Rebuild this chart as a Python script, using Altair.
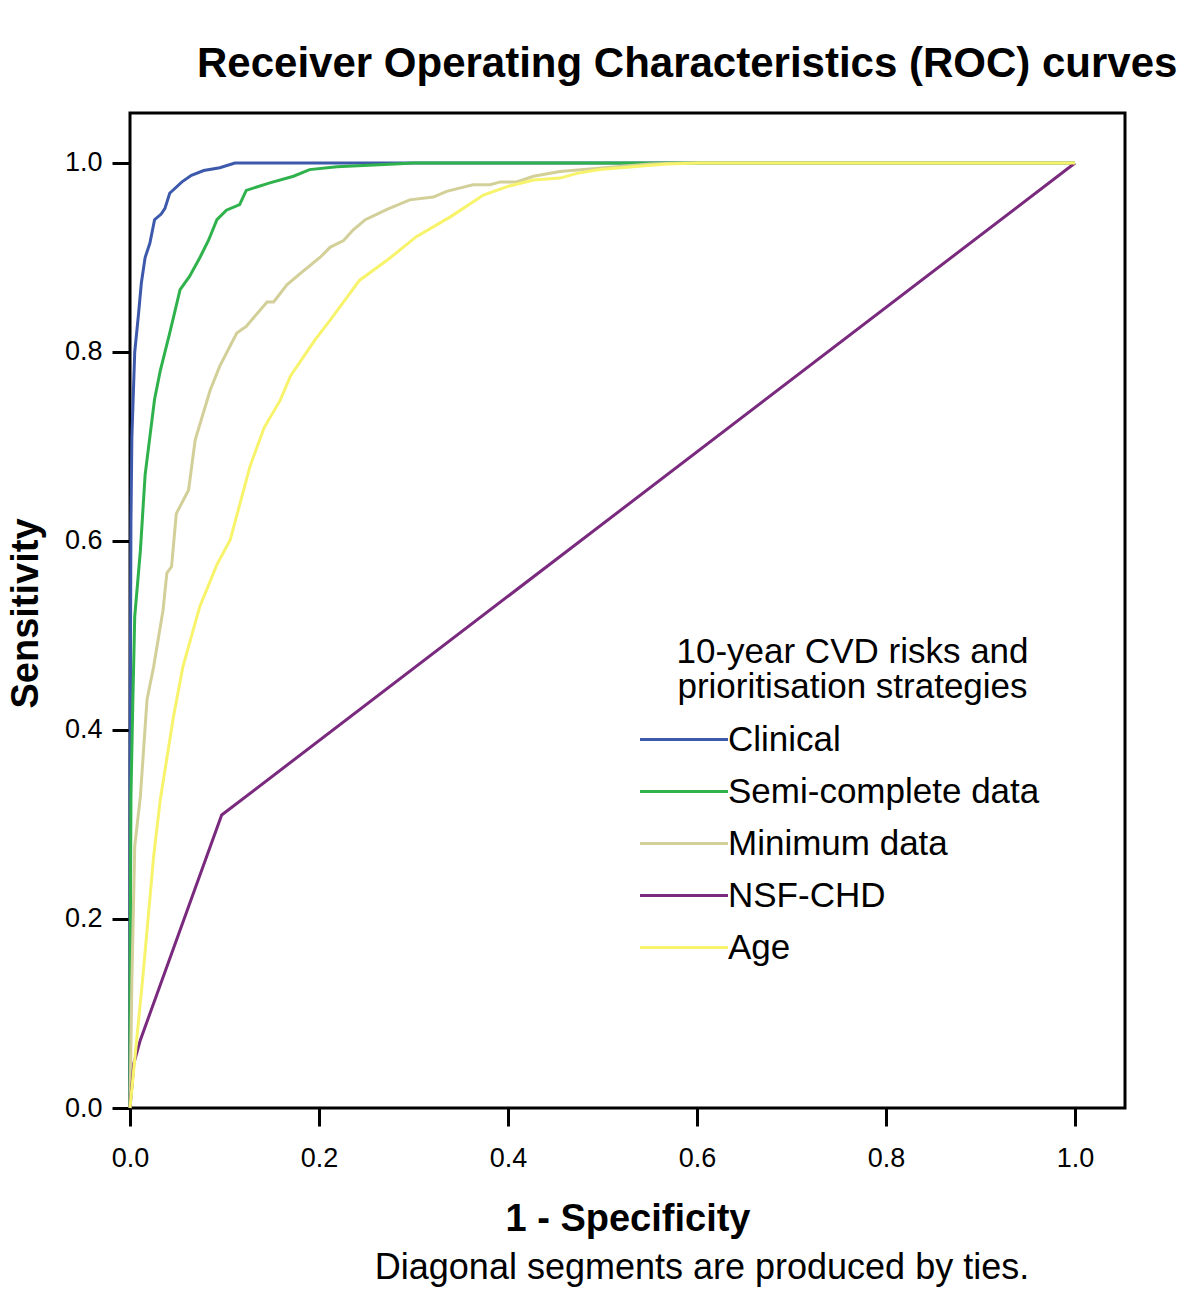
import altair as alt
import pandas as pd

# ---- data ----
series_names = ["Clinical", "Semi-complete data", "Minimum data", "NSF-CHD", "Age"]
series_colors = ["#3D59AB", "#2FB24C", "#D3CF98", "#7A2A7E", "#F7F36B"]

clinical_fpr = [0, 0, 0.001, 0.002, 0.005, 0.009, 0.012, 0.016, 0.021, 0.026, 0.033, 0.037, 0.042,
                0.055, 0.065, 0.078, 0.095, 0.111, 1.0]
clinical_tpr = [0, 0.35, 0.62, 0.71, 0.80, 0.84, 0.873, 0.90, 0.915, 0.94, 0.946, 0.952, 0.968,
                0.980, 0.987, 0.992, 0.995, 1.0, 1.0]

semi_fpr = [0, 0, 0.001, 0.003, 0.005, 0.011, 0.016, 0.021, 0.026, 0.032, 0.042, 0.053, 0.063,
            0.074, 0.083, 0.092, 0.102, 0.116, 0.123, 0.148, 0.173, 0.19, 0.219, 0.28, 0.3, 1.0]
semi_tpr = [0, 0.1, 0.33, 0.43, 0.52, 0.59, 0.67, 0.71, 0.75, 0.78, 0.82, 0.866, 0.88,
            0.90, 0.918, 0.94, 0.95, 0.956, 0.971, 0.979, 0.986, 0.993, 0.996, 0.999, 1.0, 1.0]

minimum_fpr = [0, 0.002, 0.005, 0.011, 0.018, 0.025, 0.035, 0.039, 0.044, 0.049, 0.062, 0.069,
               0.085, 0.095, 0.113, 0.123, 0.145, 0.152, 0.166, 0.18, 0.201, 0.212, 0.226, 0.236,
               0.249, 0.272, 0.296, 0.321, 0.335, 0.363, 0.381, 0.392, 0.409, 0.427, 0.455, 0.48,
               0.515, 0.55, 0.585, 1.0]
minimum_tpr = [0, 0.135, 0.277, 0.33, 0.432, 0.467, 0.527, 0.566, 0.573, 0.629, 0.654, 0.707,
               0.76, 0.785, 0.82, 0.827, 0.853, 0.853, 0.871, 0.883, 0.90, 0.911, 0.918, 0.929,
               0.94, 0.951, 0.961, 0.964, 0.970, 0.977, 0.977, 0.980, 0.980, 0.986, 0.991, 0.993,
               0.996, 0.999, 1.0, 1.0]

nsf_fpr = [0, 0.004, 0.011, 0.097, 1.0]
nsf_tpr = [0, 0.047, 0.072, 0.31, 1.0]

age_fpr = [0, 0.014, 0.025, 0.032, 0.046, 0.056, 0.074, 0.092, 0.106, 0.127, 0.142, 0.159, 0.17,
           0.196, 0.212, 0.243, 0.272, 0.303, 0.339, 0.374, 0.399, 0.427, 0.455, 0.473, 0.497,
           0.532, 0.568, 0.603, 1.0]
age_tpr = [0, 0.143, 0.266, 0.326, 0.414, 0.467, 0.531, 0.575, 0.601, 0.679, 0.72, 0.749, 0.775,
           0.813, 0.834, 0.876, 0.897, 0.922, 0.943, 0.966, 0.975, 0.982, 0.984, 0.989, 0.993,
           0.996, 0.999, 1.0, 1.0]

x_ticks = [0.0, 0.2, 0.4, 0.6, 0.8, 1.0]
y_ticks = [0.0, 0.2, 0.4, 0.6, 0.8, 1.0]

TITLE = "Receiver Operating Characteristics (ROC) curves"
X_TITLE = "1 - Specificity"
Y_TITLE = "Sensitivity"
LEGEND_TITLE = ["10-year CVD risks and", "prioritisation strategies"]
FOOTNOTE = "Diagonal segments are produced by ties."

# ---- build table ----
rows = []
all_series = [
    ("Clinical", clinical_fpr, clinical_tpr),
    ("Semi-complete data", semi_fpr, semi_tpr),
    ("Minimum data", minimum_fpr, minimum_tpr),
    ("NSF-CHD", nsf_fpr, nsf_tpr),
    ("Age", age_fpr, age_tpr),
]
for name, xs, ys in all_series:
    for i, (x, y) in enumerate(zip(xs, ys)):
        rows.append({"series": name, "fpr": x, "tpr": y, "idx": i})
df = pd.DataFrame(rows)

FONT = "Liberation Sans"
DMAX = 1.0529

lines = alt.Chart(df).mark_line(strokeWidth=3).encode(
    x=alt.X("fpr:Q",
            scale=alt.Scale(domain=[0, DMAX], nice=False, zero=True),
            axis=alt.Axis(values=x_ticks, format=".1f", title=X_TITLE, grid=False, domain=False,
                          tickSize=18, tickWidth=3, tickColor="black",
                          labelFontSize=27, labelFont=FONT, labelColor="black", labelPadding=19,
                          labelBaseline="top", labelFlush=False,
                          titleFontSize=38, titleFont=FONT, titleFontWeight="bold", titleColor="black",
                          titleBaseline="alphabetic", titleX=497.5, titleY=122, titleAlign="center")),
    y=alt.Y("tpr:Q",
            scale=alt.Scale(domain=[0, DMAX], nice=False, zero=True),
            axis=alt.Axis(values=y_ticks, format=".1f", title=Y_TITLE, grid=False, domain=False,
                          tickSize=18, tickWidth=3, tickColor="black",
                          labelFontSize=27, labelFont=FONT, labelColor="black", labelPadding=10,
                          labelFlush=False,
                          titleFontSize=38, titleFont=FONT, titleFontWeight="bold", titleColor="black",
                          titleBaseline="alphabetic", titleX=-93, titleY=500, titleAngle=270,
                          titleAlign="center")),
    color=alt.Color("series:N",
                    scale=alt.Scale(domain=series_names, range=series_colors),
                    sort=series_names,
                    legend=alt.Legend(title=LEGEND_TITLE, orient="none", legendX=536.5, legendY=522,
                                      symbolType="M-4,0H4", symbolSize=484, symbolStrokeWidth=3,
                                      labelOffset=26.5, rowPadding=16, padding=0,
                                      labelFontSize=35, labelFont=FONT, labelColor="black", labelLimit=0,
                                      titleFontSize=35, titleFont=FONT, titleColor="black",
                                      titleFontWeight="normal", titleLineHeight=35, titleLimit=0,
                                      titleAnchor="middle", titleAlign="center", titlePadding=17)),
    order=alt.Order("idx:Q"),
)

title_text = alt.Chart(pd.DataFrame({"t": [TITLE]})).mark_text(
    font=FONT, fontSize=42, fontWeight="bold", color="black", align="left", baseline="alphabetic"
).encode(text="t:N", x=alt.value(67), y=alt.value(-36))

foot = alt.Chart(pd.DataFrame({"t": [FOOTNOTE]})).mark_text(
    font=FONT, fontSize=36, color="black", align="center", baseline="alphabetic"
).encode(text="t:N", x=alt.value(572), y=alt.value(1166))

chart = alt.layer(lines, title_text, foot).properties(
    width=995, height=995,
    autosize=alt.AutoSizeParams(type="none"),
    padding={"left": 122, "top": 105, "right": 67, "bottom": 179},
    background="white",
).configure_view(stroke="black", strokeWidth=3, strokeOpacity=1)

chart.save("out.html", embed_options={"renderer": "svg", "actions": False})
